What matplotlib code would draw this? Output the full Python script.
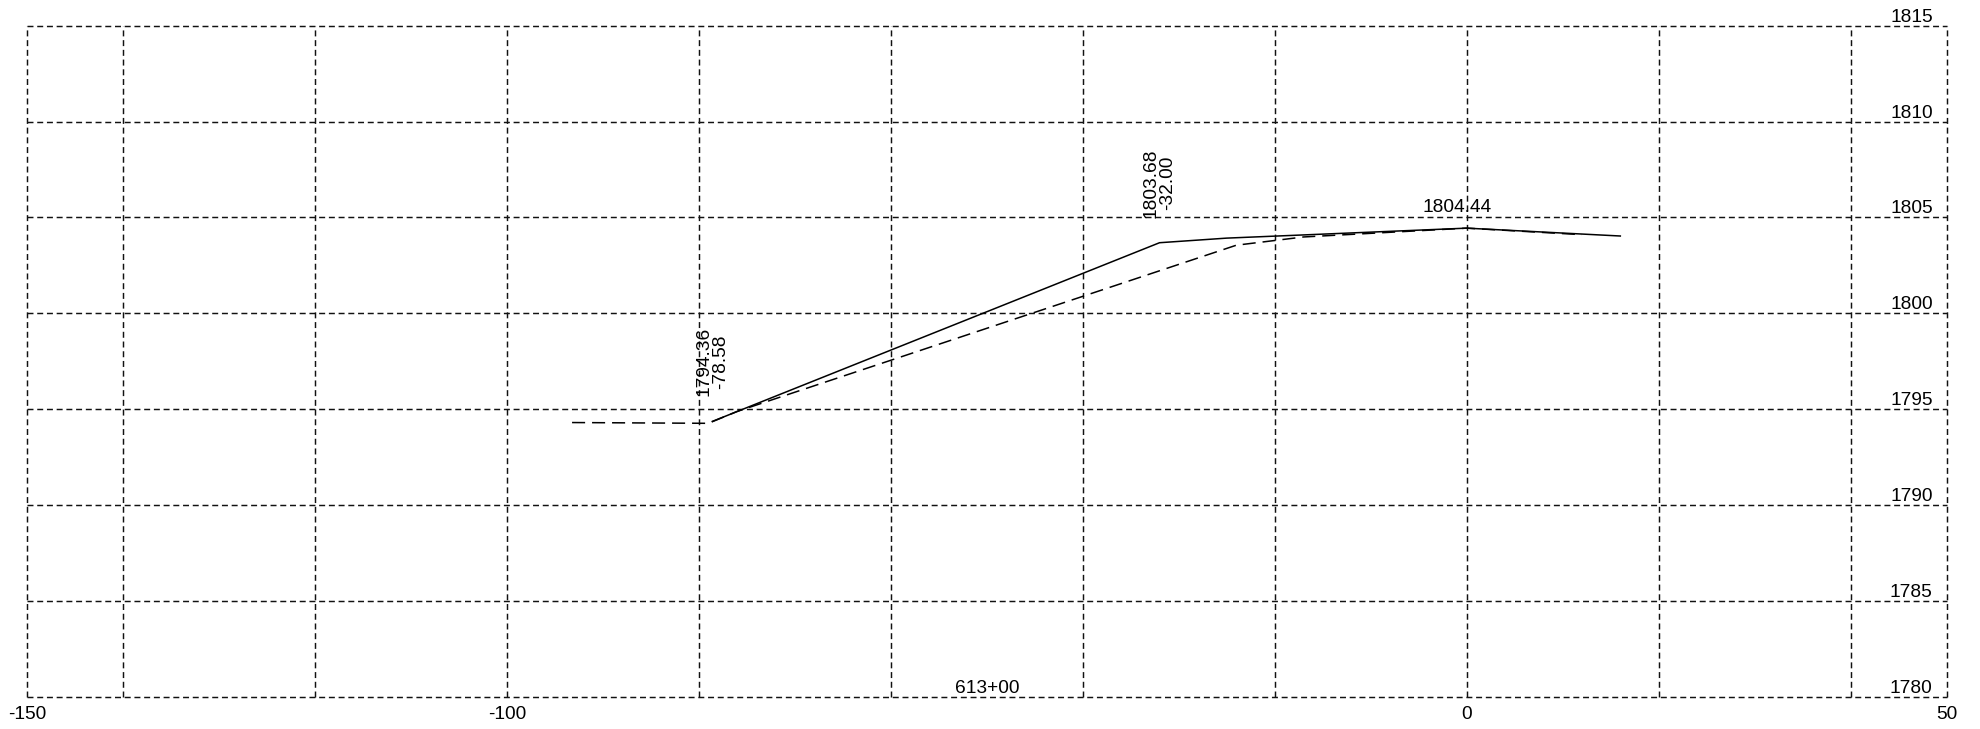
import matplotlib
matplotlib.use("Agg")
import matplotlib.pyplot as plt

plt.rcParams['font.family'] = ['Liberation Sans', 'DejaVu Sans']
plt.rcParams['lines.scale_dashes'] = False

# ---- data ----
x_design = [-78.58, -32.00, -25.0, 0.0, 16.0]
y_design = [1794.36, 1803.68, 1803.92, 1804.44, 1804.03]

x_ground = [-93.2, -79.0, -76.0, -24.0, -17.0, 0.0, 12.0]
y_ground = [1794.30, 1794.26, 1794.88, 1803.55, 1803.98, 1804.44, 1804.10]

annot_x = [-78.58, -32.00]
annot_elev = [1794.36, 1803.68]

peak_x = 0.0
peak_elev = 1804.44

station_label = "613+00"
station_x = -50

x_grid = [-150, -140, -120, -100, -80, -60, -40, -20, 0, 20, 40, 50]
x_tick_labels = [-150, -100, 0, 50]
y_ticks = [1780, 1785, 1790, 1795, 1800, 1805, 1810, 1815]

FS = 13.8

fig = plt.figure(figsize=(19.8, 7.29), dpi=100)
ax = fig.add_axes([0.01354, 0.04431, 0.98318 - 0.01354, 0.96475 - 0.04431])
ax.set_xlim(-150, 50)
ax.set_ylim(1780, 1815)
for s in ax.spines.values():
    s.set_visible(False)

grid_kw = dict(color='#111111', lw=1.05, linestyle=(0, (4.3, 2.7)), zorder=1,
               clip_on=False)
for gx in x_grid:
    ax.axvline(gx, **grid_kw)
for gy in y_ticks:
    ax.axhline(gy, **grid_kw)

ax.plot(x_design, y_design, color='black', lw=1.1, zorder=3)
ax.plot(x_ground, y_ground, color='black', lw=1.1, linestyle=(0, (9.4, 5.0)), zorder=3)

for xv, ev in zip(annot_x, annot_elev):
    ax.annotate(f"{ev:.2f}\n{xv:.2f}", xy=(xv, ev), xytext=(0, 25),
                textcoords='offset pixels', rotation=90, ha='center', va='bottom',
                multialignment='center', linespacing=1.0, fontsize=FS)

ax.annotate(f"{peak_elev:.2f}", xy=(peak_x, peak_elev), xytext=(-10, 16),
            textcoords='offset pixels', ha='center', va='baseline', fontsize=FS)

ax.annotate(station_label, xy=(station_x, 1780), xytext=(0, 4),
            textcoords='offset pixels', ha='center', va='baseline', fontsize=FS)

for yv in y_ticks:
    ax.annotate(f"{yv}", xy=(1, yv), xycoords=('axes fraction', 'data'),
                xytext=(-14, 4), textcoords='offset pixels',
                ha='right', va='baseline', fontsize=FS)

ax.set_xticks(x_tick_labels)
ax.set_xticklabels([str(v) for v in x_tick_labels], fontsize=FS)
ax.set_yticks([])
ax.tick_params(axis='x', length=0, pad=7)

fig.savefig("out.png", dpi=100)
